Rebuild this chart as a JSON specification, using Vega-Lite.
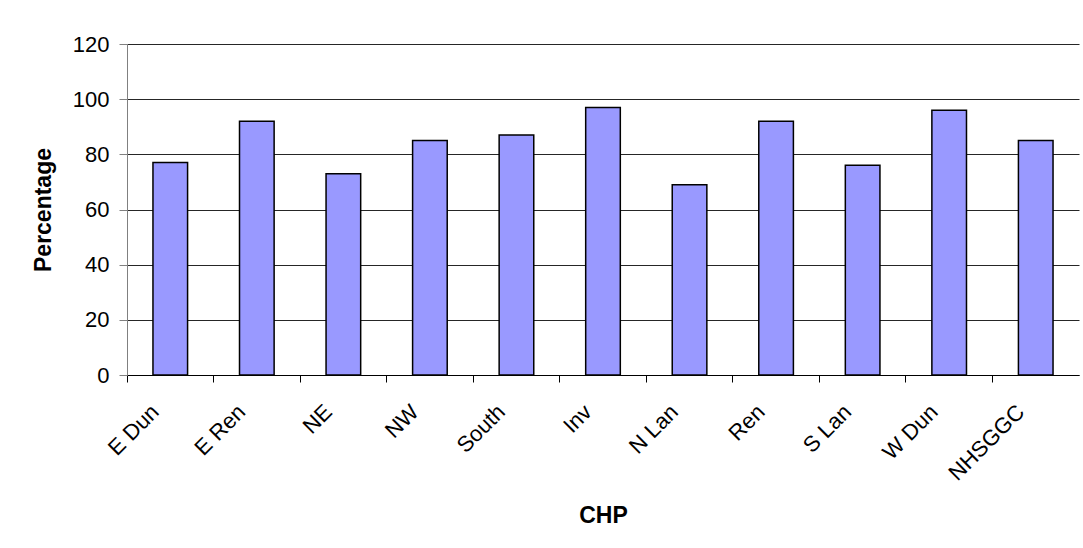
{
  "$schema": "https://vega.github.io/schema/vega-lite/v6.json",
  "width": 952,
  "height": 331,
  "autosize": {"type": "none"},
  "padding": {"left": 127, "top": 44, "right": 4, "bottom": 173},
  "background": "white",
  "data": {
    "values": [
      {"CHP": "E Dun", "Percentage": 77},
      {"CHP": "E Ren", "Percentage": 92},
      {"CHP": "NE", "Percentage": 73},
      {"CHP": "NW", "Percentage": 85},
      {"CHP": "South", "Percentage": 87},
      {"CHP": "Inv", "Percentage": 97},
      {"CHP": "N Lan", "Percentage": 69},
      {"CHP": "Ren", "Percentage": 92},
      {"CHP": "S Lan", "Percentage": 76},
      {"CHP": "W Dun", "Percentage": 96},
      {"CHP": "NHSGGC", "Percentage": 85}
    ]
  },
  "mark": {"type": "bar", "fill": "#9999FF", "stroke": "#000000", "strokeWidth": 1.5, "width": {"band": 0.4}},
  "encoding": {
    "x": {
      "field": "CHP",
      "type": "nominal",
      "sort": null,
      "scale": {"paddingInner": 0, "paddingOuter": 0},
      "axis": {
        "title": "CHP",
        "bandPosition": 0,
        "labelAngle": -45,
        "labelAlign": "right",
        "labelBaseline": "middle",
        "labelOffset": -15,
        "labelPadding": 26,
        "tickSize": 7,
        "tickColor": "#000000",
        "domainColor": "#000000",
        "labelFont": "Liberation Sans",
        "labelFontSize": 22,
        "labelColor": "#000000",
        "titleFont": "Liberation Sans",
        "titleFontSize": 23,
        "titleFontWeight": "bold",
        "titleColor": "#000000",
        "titlePadding": 20,
        "grid": false
      }
    },
    "y": {
      "field": "Percentage",
      "type": "quantitative",
      "scale": {"domain": [0, 120], "nice": false},
      "axis": {
        "title": "Percentage",
        "values": [0, 20, 40, 60, 80, 100, 120],
        "tickSize": 8,
        "tickColor": "#808080",
        "domainColor": "#808080",
        "gridColor": "#000000",
        "gridOpacity": 0.85,
        "labelFont": "Liberation Sans",
        "labelFontSize": 22,
        "labelColor": "#000000",
        "labelPadding": 10,
        "titleFont": "Liberation Sans",
        "titleFontSize": 23,
        "titleFontWeight": "bold",
        "titleColor": "#000000",
        "titlePadding": 17
      }
    }
  },
  "config": {"view": {"stroke": null}}
}
